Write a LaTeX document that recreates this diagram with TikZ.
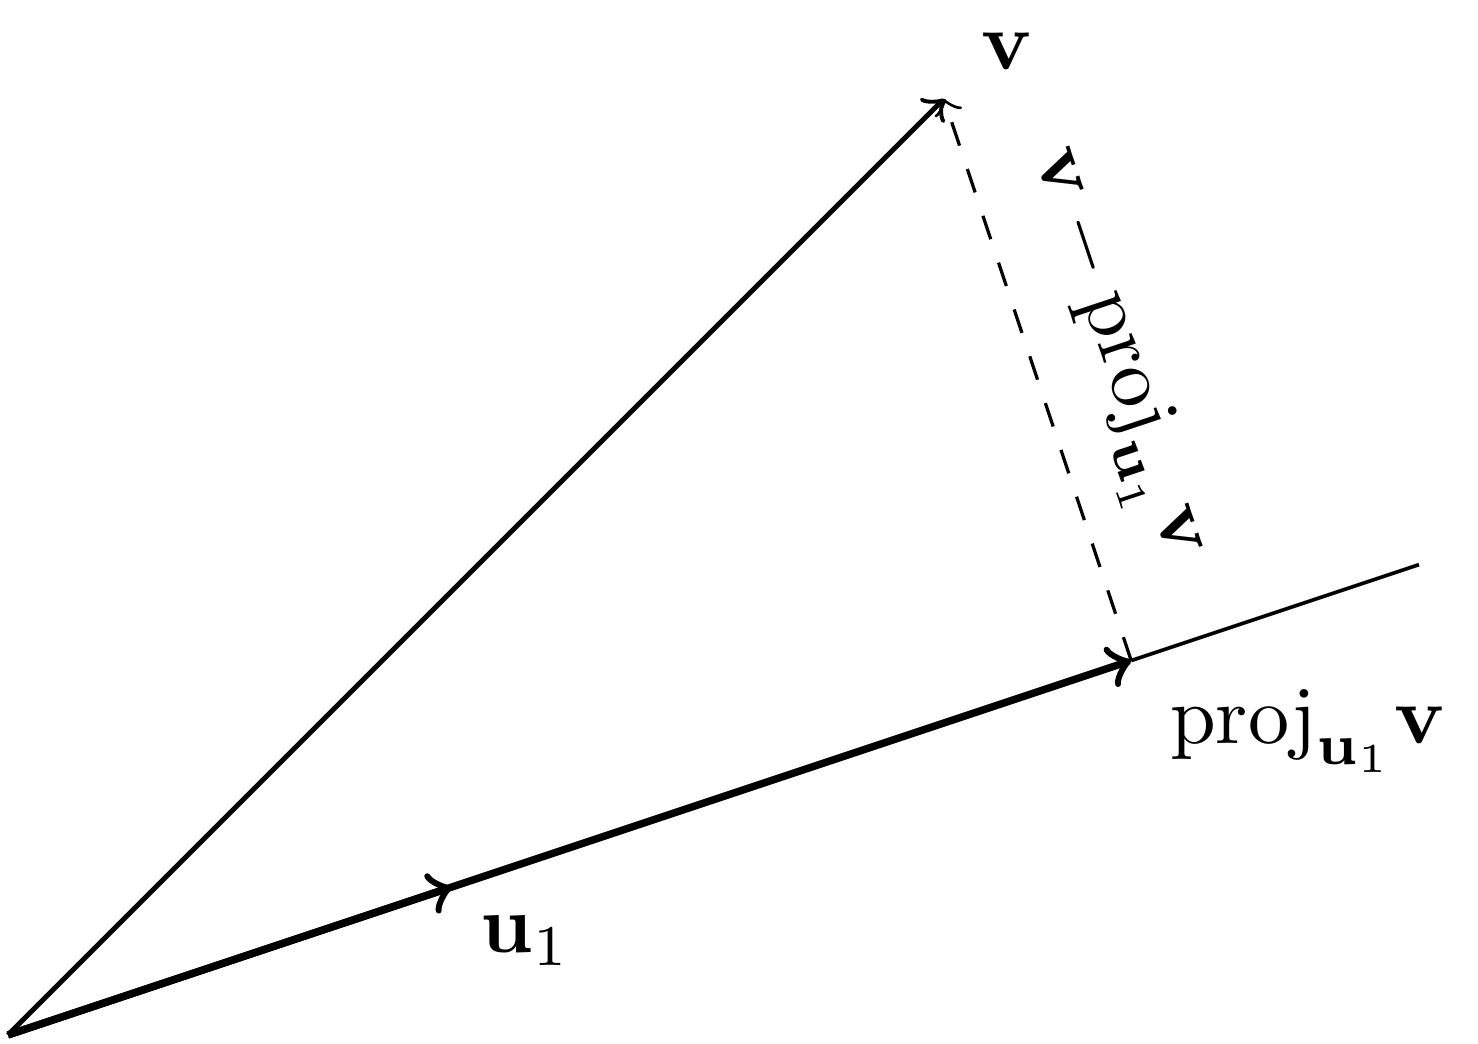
\documentclass[tikz,border=0pt]{standalone}
\usepackage{amsmath}
\usepackage{amssymb}
\usepackage{pgf,tikz}
\tikzstyle{vecteur} = [->, semithick]
\tikzstyle{vecteurgras} = [->, line width=0.9pt]
\tikzstyle{droite} = [line width=0.45pt]
\tikzstyle{complement} = [->, dashed, thin]

\begin{document}
\begin{tikzpicture}
	\useasboundingbox (-0.034,-0.038) rectangle (6.282,4.423);
	\coordinate (O) at (0,0);
	\coordinate (v) at (4,4);
	\coordinate (u) at (1.897,0.632);
	\coordinate (p) at (4.8,1.6);
	\coordinate (fin) at (6.03,2.01);
	\draw[droite] (p) -- (fin);
	\draw[vecteurgras] (O) -- (p);
	\draw[vecteurgras] (O) -- (u);
	\draw[vecteur] (O) -- (v);
	\draw[complement] (p) -- node[sloped, above=1.2pt](diff){$\mathbf{v}-\text{proj}_{\mathbf{u}_1}\mathbf{v}$} (v);
	\node[above right, xshift=1pt](vlab) at (v) {$\mathbf{v}$};
	\node[below right](ulab) at (u) {$\mathbf{u}_1$};
	\node[below right, xshift=1.2pt](plab) at (p) {$\text{proj}_{\mathbf{u}_1}\mathbf{v}$};
\end{tikzpicture}
\end{document}
